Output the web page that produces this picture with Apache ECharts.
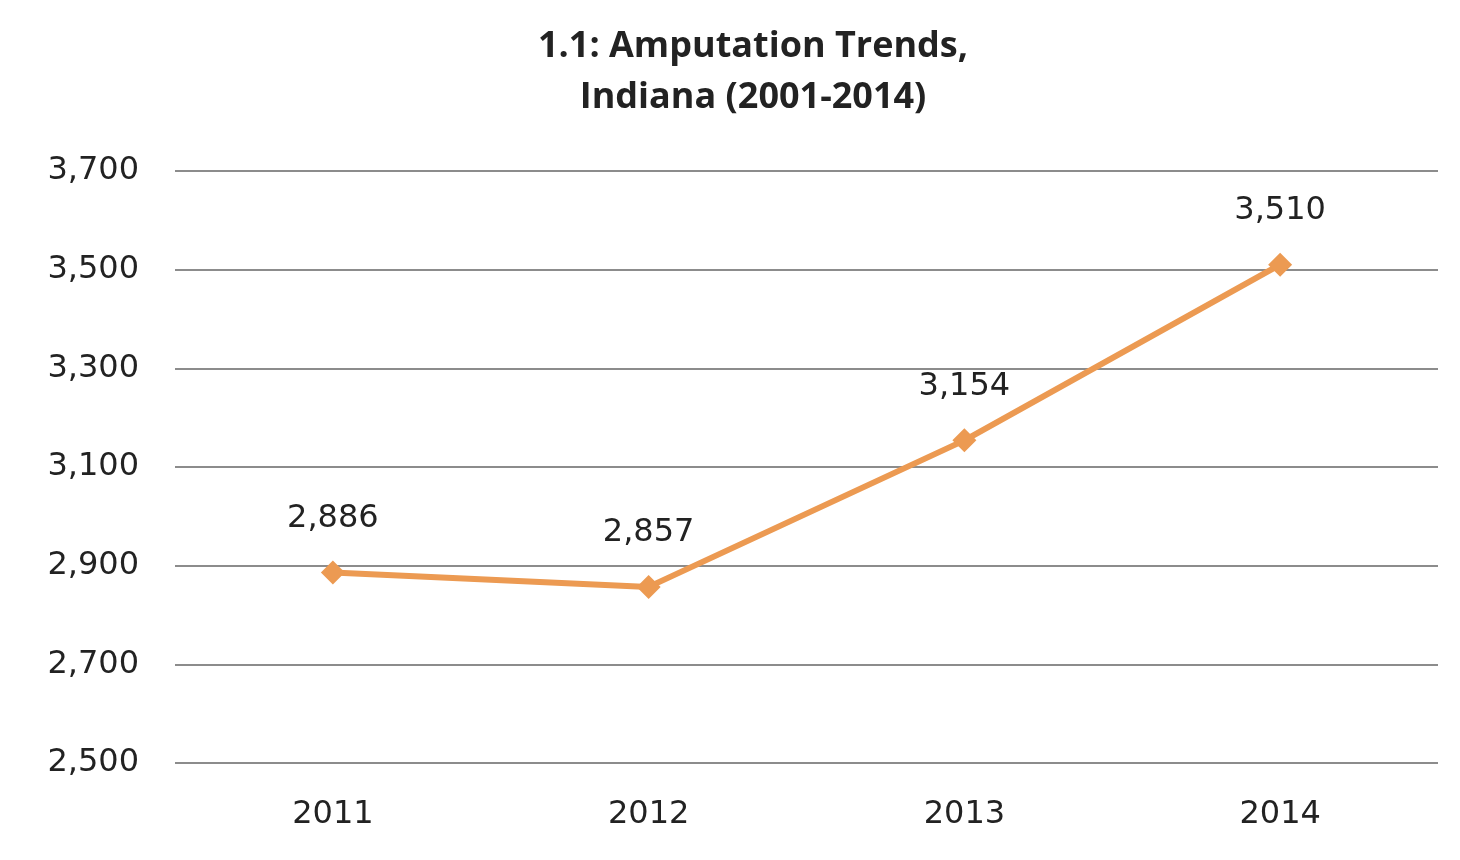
<!DOCTYPE html>
<html><head><meta charset="utf-8">
<script src="https://cdn.jsdelivr.net/npm/echarts@6/dist/echarts.min.js"></script>
<style>html,body{margin:0;padding:0;background:#fff}#c{width:1460px;height:860px}</style>
</head><body><div id="c"></div>
<script>
const titleText = "1.1: Amputation Trends,\nIndiana (2001-2014)";
const categories = ["2011", "2012", "2013", "2014"];
const amputations = [2886, 2857, 3154, 3510];
const yTicks = { min: 2500, max: 3700, interval: 200 };

const chart = echarts.init(document.getElementById('c'));
const fmt = v => v.toLocaleString('en-US');
chart.setOption({
  backgroundColor: '#fff',
  animation: false,
  title: {
    text: titleText, left: 748, top: 16, textAlign: 'center',
    textStyle: { fontFamily: 'Open Sans', fontWeight: 'bold', fontSize: 36, color: '#222', lineHeight: 51 }
  },
  grid: { left: 175, right: 22, top: 171, bottom: 97 },
  xAxis: {
    type: 'category', data: categories, boundaryGap: true,
    axisLine: { show: false }, axisTick: { show: false },
    axisLabel: { margin: 36, fontFamily: 'DejaVu Sans', fontSize: 32, color: '#222' }
  },
  yAxis: {
    type: 'value', min: yTicks.min, max: yTicks.max, interval: yTicks.interval,
    axisLine: { show: false }, axisTick: { show: false },
    axisLabel: { margin: 36, fontFamily: 'DejaVu Sans', fontSize: 32, color: '#222', formatter: fmt, padding: [6, 0, 0, 0] },
    splitLine: { lineStyle: { color: '#8c8c8c', width: 2 } }
  },
  series: [{
    type: 'line', data: amputations,
    lineStyle: { color: '#EC9A52', width: 6 },
    itemStyle: { color: '#EC9A52' },
    symbol: 'diamond', symbolSize: 24,
    label: { show: true, position: 'top', distance: 26, fontFamily: 'DejaVu Sans', fontSize: 32, color: '#222', formatter: p => fmt(p.value) }
  }]
});
</script></body></html>
